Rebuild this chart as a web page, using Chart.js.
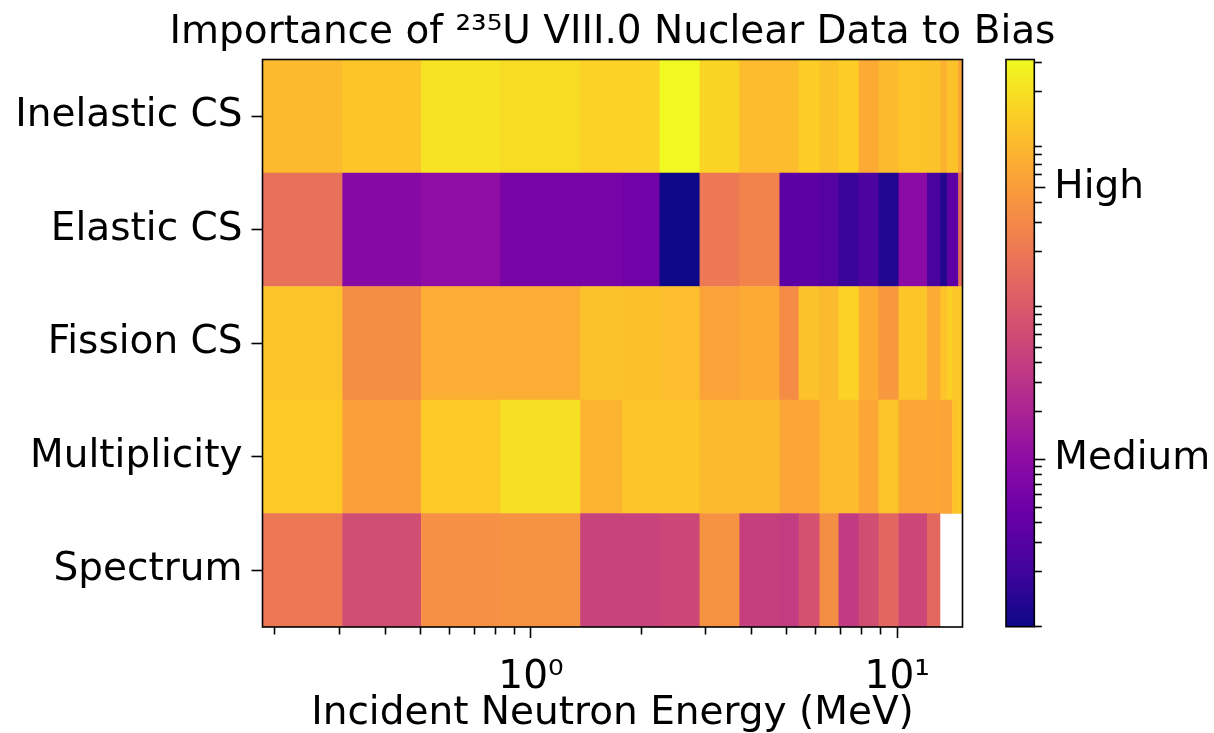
<!DOCTYPE html>
<html>
<head>
<meta charset="utf-8">
<script src="https://cdn.jsdelivr.net/npm/chart.js@4.4.1/dist/chart.umd.min.js"></script>
<style>
  body { margin: 0; background: #fff; }
  #wrap { position: relative; width: 1214px; height: 733px; }
  #heat { position: absolute; left: 0; top: 0; }
  #cbar { position: absolute; left: 990px; top: 0; }
</style>
</head>
<body>
<div id="wrap">
  <canvas id="heat" width="1214" height="733"></canvas>
  <canvas id="cbar" width="224" height="733"></canvas>
</div>
<script>
// rows of the map, top to bottom
const rows = ["Inelastic CS", "Elastic CS", "Fission CS", "Multiplicity", "Spectrum"];

// energy group boundaries (MeV)
const edges = [0.185, 0.305, 0.5, 0.823, 1.36, 1.77, 2.24, 2.88, 3.7, 4.76, 5.37,
  6.12, 6.9, 7.83, 8.87, 10.06, 12.03, 13.08, 13.64, 14.08, 14.63, 15.07];

// importance per energy group
const inelastic = [92.5, 118, 209, 182, 151, 151, 315, 157, 96.3, 96.3, 139,
  109, 139, 66.7, 92.5, 113, 109, 78.6, 109, 109, 56.6];
const elastic = [16.6, 0.808, 1.03, 0.607, 0.597, 0.52, 0.0898, 20.4, 27.1, 0.351, 0.357,
  0.303, 0.183, 0.258, 0.123, 0.921, 0.241, 0.127, 0.357, 0.357, 15.3];
const fission = [113, 34.7, 70.6, 70.6, 109, 107, 100, 56.6, 66.7, 33.3, 109,
  92.5, 151, 69.5, 44.3, 118, 69.5, 113, 145, 123, 128];
const multiplicity = [126, 52.2, 126, 193, 81.8, 115, 115, 92.5, 92.5, 61.5, 61.5,
  96.3, 96.3, 61.5, 113, 61.5, 61.5, 59.0, 59.0, 109, 128];
const spectrum = [19.6, 6.24, 36.1, 39.2, 4.69, 4.69, 5.3, 39.2, 4.28, 3.91, 7.34,
  34.7, 3.82, 6.5, 13.0, 5.3, 13.55, null, null, null, null];

// colour scale limits (log norm)
const vmin = 0.0898;
const vmax = 315;

// axis ticks
const xMajor = [1, 10];
const xMajorLabels = ["10⁰", "10¹"];
const xMinor = [0.2, 0.3, 0.4, 0.5, 0.6, 0.7, 0.8, 0.9, 2, 3, 4, 5, 6, 7, 8, 9];
const cbMajor = [1, 50];
const cbMajorLabels = ["Medium", "High"];
const cbMinor = [0.09, 0.2, 0.3, 0.4, 0.5, 0.6, 0.7, 0.8, 0.9, 2, 3, 4, 5, 6, 7, 8, 9,
  20, 30, 40, 60, 70, 80, 90, 200, 300];

const family = "'DejaVu Sans', sans-serif";
const font = { family: family, size: 39 };

// plasma colormap
const plasmaStops = [[13, 8, 135], [65, 4, 157], [106, 0, 168], [143, 13, 164], [177, 42, 144],
  [204, 71, 120], [225, 100, 98], [242, 132, 75], [252, 166, 54], [252, 206, 37], [240, 249, 33]];

function plasma(t) {
  t = Math.min(1, Math.max(0, t)) * 10;
  const i = Math.min(9, Math.floor(t));
  const f = t - i;
  const a = plasmaStops[i], b = plasmaStops[i + 1];
  return "rgb(" + a.map((c, k) => Math.round(c + (b[k] - c) * f)).join(",") + ")";
}

function norm(v) {
  return (Math.log10(v) - Math.log10(vmin)) / (Math.log10(vmax) - Math.log10(vmin));
}

// one floating-bar dataset per energy group, one bar per row
const values = [inelastic, elastic, fission, multiplicity, spectrum];
const datasets = edges.slice(0, -1).map((lo, i) => ({
  data: values.map(row => (row[i] == null ? null : [lo, edges[i + 1]])),
  backgroundColor: values.map(row => (row[i] == null ? "rgba(0,0,0,0)" : plasma(norm(row[i])))),
  borderWidth: 0,
  barPercentage: 1,
  categoryPercentage: 1,
  grouped: false,
}));

// black box around the plot area
const frame = {
  id: "frame",
  afterDatasetsDraw(chart) {
    const { ctx, chartArea: a } = chart;
    ctx.save();
    ctx.strokeStyle = "#000";
    ctx.lineWidth = 1.6;
    ctx.strokeRect(a.left, a.top, a.right - a.left, a.bottom - a.top);
    ctx.restore();
  },
};

// heading centred over the plot area
const heading = {
  id: "heading",
  afterDraw(chart) {
    const { ctx, chartArea: a } = chart;
    ctx.save();
    ctx.font = "39px " + family;
    ctx.fillStyle = "#000";
    ctx.textAlign = "center";
    ctx.textBaseline = "alphabetic";
    ctx.fillText("Importance of ²³⁵U VIII.0 Nuclear Data to Bias", (a.left + a.right) / 2, 43);
    ctx.restore();
  },
};

function tickGrid(len) {
  return { drawOnChartArea: false, tickLength: len, tickWidth: 1.6, tickColor: "#000" };
}

new Chart(document.getElementById("heat"), {
  type: "bar",
  data: { labels: rows, datasets: datasets },
  options: {
    indexAxis: "y",
    responsive: false,
    animation: false,
    devicePixelRatio: 1,
    layout: { padding: { left: 0, top: 59.5, right: 251.5, bottom: 0 } },
    plugins: { legend: { display: false }, tooltip: { enabled: false } },
    scales: {
      y: {
        type: "category",
        grid: Object.assign(tickGrid(11), { offset: false }),
        border: { display: false },
        ticks: { color: "#000", font: font, padding: 9 },
        afterFit: s => { s.width = 262.5; },
      },
      xMinor: {
        type: "logarithmic",
        axis: "x",
        position: "bottom",
        weight: 0,
        min: edges[0],
        max: edges[edges.length - 1],
        bounds: "data",
        afterBuildTicks: s => { s.ticks = xMinor.map(v => ({ value: v })); },
        ticks: { display: false },
        grid: tickGrid(7.5),
        border: { display: false },
        afterFit: s => { s.height = 0; },
      },
      x: {
        type: "logarithmic",
        position: "bottom",
        weight: 1,
        min: edges[0],
        max: edges[edges.length - 1],
        bounds: "data",
        afterBuildTicks: s => { s.ticks = xMajor.map(v => ({ value: v, major: true })); },
        ticks: {
          color: "#000",
          font: font,
          padding: 16,
          autoSkip: false,
          maxRotation: 0,
          callback: (v, i) => xMajorLabels[i],
        },
        grid: tickGrid(11),
        border: { display: false },
        title: {
          display: true,
          text: "Incident Neutron Energy (MeV)",
          color: "#000",
          font: { family: family, size: 39, lineHeight: 1 },
          padding: { top: 0, bottom: 0 },
        },
        afterFit: s => { s.height = 733 - 627; },
      },
    },
  },
  plugins: [frame, heading],
});

// colour bar: one bar spanning the full norm range, filled with the colormap
function cbGradient(c) {
  const area = c.chart.chartArea;
  if (!area) return null;
  const g = c.chart.ctx.createLinearGradient(0, area.bottom, 0, area.top);
  plasmaStops.forEach((s, i) => g.addColorStop(i / 10, "rgb(" + s.join(",") + ")"));
  return g;
}

new Chart(document.getElementById("cbar"), {
  type: "bar",
  data: {
    labels: [""],
    datasets: [{
      data: [[vmin, vmax]],
      backgroundColor: cbGradient,
      borderWidth: 0,
      barPercentage: 1,
      categoryPercentage: 1,
    }],
  },
  options: {
    responsive: false,
    animation: false,
    devicePixelRatio: 1,
    layout: { padding: { left: 16, top: 59.5, right: 0, bottom: 106.3 } },
    plugins: { legend: { display: false }, tooltip: { enabled: false } },
    scales: {
      x: { display: false },
      yMinor: {
        type: "logarithmic",
        axis: "y",
        position: "right",
        weight: 0,
        min: vmin,
        max: vmax,
        bounds: "data",
        afterBuildTicks: s => { s.ticks = cbMinor.map(v => ({ value: v })); },
        ticks: { display: false },
        grid: tickGrid(7.5),
        border: { display: false },
        afterFit: s => { s.width = 0; },
      },
      y: {
        type: "logarithmic",
        position: "right",
        weight: 1,
        min: vmin,
        max: vmax,
        bounds: "data",
        afterBuildTicks: s => { s.ticks = cbMajor.map(v => ({ value: v, major: true })); },
        ticks: {
          color: "#000",
          font: font,
          padding: 9,
          autoSkip: false,
          callback: (v, i) => cbMajorLabels[i],
        },
        grid: tickGrid(11),
        border: { display: false },
        afterFit: s => { s.width = 179.7; },
      },
    },
  },
  plugins: [frame],
});
</script>
</body>
</html>
